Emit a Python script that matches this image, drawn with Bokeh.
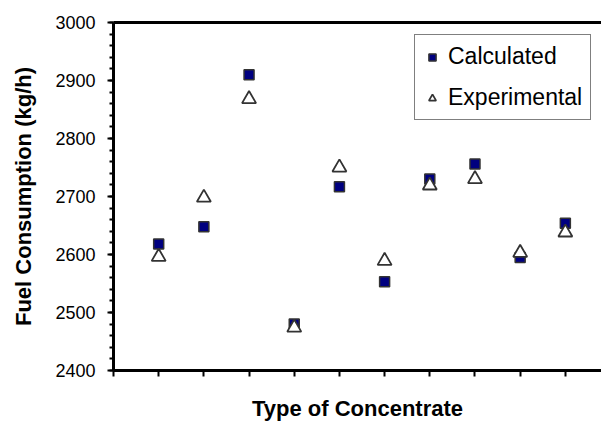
from bokeh.plotting import figure
from bokeh.models import (Range1d, LinearAxis, SingleIntervalTicker, FixedTicker,
                          Legend, LegendItem, ColumnDataSource, CustomJSTickFormatter)
from bokeh.embed import file_html
from bokeh.resources import INLINE

concentrate = [1, 2, 3, 4, 5, 6, 7, 8, 9, 10]
calculated = [2618, 2648, 2910, 2480, 2717, 2553, 2730, 2756, 2595, 2654]
experimental = [2596, 2698, 2868, 2474, 2750, 2589, 2719, 2730, 2603, 2638]

FONT = "Liberation Sans"

src = ColumnDataSource(dict(x=concentrate, calc=calculated, exp=experimental))

p = figure(width=601, height=423, output_backend="svg", toolbar_location=None,
           x_range=Range1d(0, 10.8), y_range=Range1d(2400, 3000),
           min_border_left=113, min_border_right=0, min_border_top=22,
           min_border_bottom=53, outline_line_color=None,
           background_fill_color="white", border_fill_color="white")
p.grid.visible = False

r_calc = p.scatter("x", "calc", source=src, marker="square", size=10,
                   fill_color="#000080", line_color="#333333", line_width=1.5)
r_exp = p.scatter("x", "exp", source=src, marker="triangle", size=14,
                  fill_color="white", line_color="#333333", line_width=1.8)

# y axis
ya = p.yaxis[0]
ya.ticker = SingleIntervalTicker(interval=100, num_minor_ticks=5)
ya.axis_line_width = 3
ya.axis_line_color = "black"
ya.major_tick_in = 0
ya.major_tick_out = 6
ya.major_tick_line_width = 2
ya.minor_tick_in = 0
ya.minor_tick_out = 4
ya.minor_tick_line_width = 2
ya.major_label_text_font = FONT
ya.major_label_text_font_size = "18px"
ya.major_label_text_color = "black"
ya.major_label_standoff = 12
ya.axis_label = "Fuel Consumption (kg/h)"
ya.axis_label_text_font = FONT
ya.axis_label_text_font_size = "22px"
ya.axis_label_text_font_style = "bold"
ya.axis_label_text_color = "black"
ya.axis_label_standoff = 16

# x axis
xa = p.xaxis[0]
xa.ticker = SingleIntervalTicker(interval=1, num_minor_ticks=0)
xa.formatter = CustomJSTickFormatter(code="return ''")
xa.axis_line_width = 3
xa.axis_line_color = "black"
xa.major_tick_in = 0
xa.major_tick_out = 6
xa.major_tick_line_width = 2
xa.minor_tick_out = 0
xa.minor_tick_in = 0
xa.major_label_standoff = 0
xa.axis_label = "Type of Concentrate"
xa.axis_label_text_font = FONT
xa.axis_label_text_font_size = "22px"
xa.axis_label_text_font_style = "bold"
xa.axis_label_text_color = "black"
xa.axis_label_standoff = 19

# top border line
top = LinearAxis(ticker=FixedTicker(ticks=[]), axis_line_width=3,
                 axis_line_color="black", major_tick_out=0, major_tick_in=0,
                 minor_tick_out=0, minor_tick_in=0,
                 formatter=CustomJSTickFormatter(code="return ''"),
                 major_label_standoff=0)
p.add_layout(top, "above")

legend = Legend(items=[LegendItem(label="Calculated", renderers=[r_calc]),
                       LegendItem(label="Experimental", renderers=[r_exp])],
                location=(301, 250), padding=8, spacing=14,
                glyph_width=18, glyph_height=26, label_height=24,
                label_standoff=7, label_text_font=FONT,
                label_text_font_size="23px", label_text_color="black",
                border_line_color="black", border_line_width=1.5,
                background_fill_color="white", background_fill_alpha=1.0)
p.add_layout(legend, "center")

open("out.html", "w").write(file_html(p, INLINE))
